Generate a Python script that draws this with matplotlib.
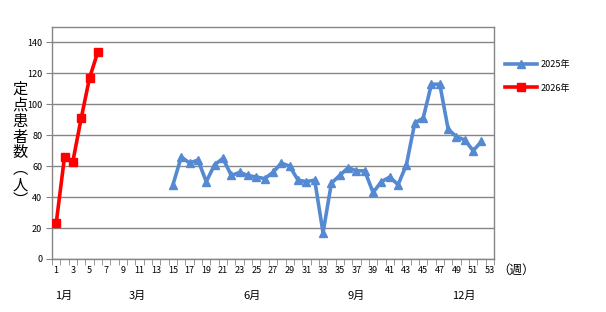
import numpy as np
import matplotlib.pyplot as plt
from matplotlib.ticker import FixedLocator

plt.rcParams['font.family'] = ['Noto Sans CJK JP', 'DejaVu Sans']

# %% Data
weeks_2025 = list(range(15, 53))
cases_2025 = [48, 66, 62, 64, 50, 61, 65, 54, 56, 54, 53, 52, 56, 62, 60, 51,
              50, 51, 17, 49, 54, 59, 57, 57, 43, 50, 53, 48, 61, 88, 91, 113,
              113, 84, 79, 77, 70, 76]
weeks_2026 = [1, 2, 3, 4, 5, 6]
cases_2026 = [23, 66, 63, 91, 117, 134]
week_labels = [str(w) for w in range(1, 54, 2)]
months = ["1月", "3月", "6月", "9月", "12月"]
month_x = [64, 137, 252, 356, 464]

# %% Plot
fig = plt.figure(figsize=(6.06, 3.12), dpi=100)
W, H = 606, 312
ax = fig.add_axes([52 / W, 1 - 259 / H, (494 - 52) / W, (259 - 27) / H])

ax.plot(weeks_2025, cases_2025, color="#5589D2", lw=2.6, marker="^",
        markersize=6, label="2025年", zorder=3)
ax.plot(weeks_2026, cases_2026, color="#FF0000", lw=2.6, marker="s",
        markersize=6, label="2026年", zorder=3)

ax.set_xlim(0.5, 53.5)
ax.set_ylim(0, 150)
ax.set_yticks(np.arange(0, 141, 20))
ax.yaxis.grid(True, color="#868686", lw=1)
ax.set_axisbelow(True)
ax.set_xticks(np.arange(1, 54, 2))
ax.set_xticklabels(week_labels)
ax.xaxis.set_minor_locator(FixedLocator(np.arange(0.5, 54, 1)))
ax.tick_params(axis="x", which="major", length=0, labelsize=6.5, pad=5)
ax.tick_params(axis="x", which="minor", length=4, color="#868686", direction="out")
ax.tick_params(axis="y", length=4, color="#868686", labelsize=6.5, pad=3)
for s in ax.spines.values():
    s.set_color("#868686")
    s.set_linewidth(1)

# y label (vertical stacked)
fig.text(20 / W, 1 - 145 / H, "\n".join("定点患者数︵人︶"), ha="center",
         va="center", fontsize=11, linespacing=0.92)
fig.text(516 / W, 1 - 270 / H, "（週）", ha="center", va="center", fontsize=9)
for m, x in zip(months, month_x):
    fig.text(x / W, 1 - 296 / H, m, ha="center", va="center", fontsize=8)

fig.legend(loc="upper left", bbox_to_anchor=(497 / W, 1 - 52 / H),
           frameon=False, fontsize=6.5, handlelength=3.5, labelspacing=1.6,
           handletextpad=0.4)

plt.savefig("out.png", dpi=100)
